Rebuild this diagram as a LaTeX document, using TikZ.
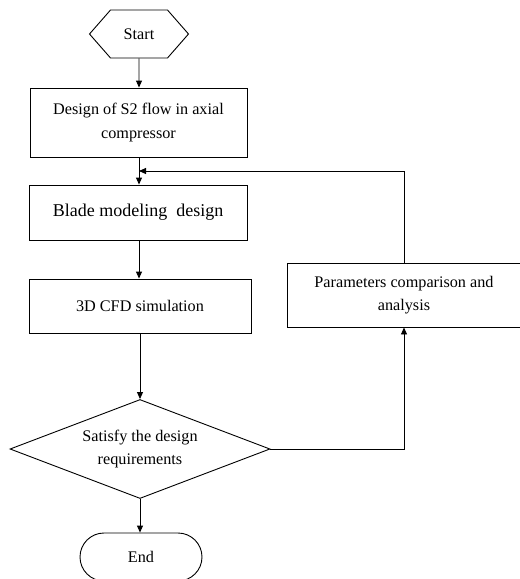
\documentclass[tikz,border=0pt]{standalone}
\usepackage{fontspec}
\setmainfont{Liberation Serif}
\usetikzlibrary{positioning, shapes.geometric, shapes.misc, shapes.symbols, arrows.meta}

\begin{document}
\begin{tikzpicture}[x=1pt, y=-1pt, line width=0.9pt, >={Triangle[length=7pt,width=6pt]},
        every node/.style={draw, inner sep=0pt, align=center,
                           font=\fontsize{16.2}{23.5}\selectfont},
        box/.style={rectangle, minimum height=55pt},
        hexa/.style={signal, signal to=west and east, signal pointer angle=97.6,
                     minimum width=99pt, minimum height=48pt},
        decide/.style={diamond, aspect=2.6, minimum width=260pt, minimum height=99pt},
        term/.style={rounded rectangle, minimum width=122pt, minimum height=48pt}]
      \useasboundingbox (0,0) rectangle (520,579);
      \node[hexa]   (start)  at (139, 34)    {Start};
      \node[box, minimum width=217pt, minimum height=69pt]
                    (s2)     at (138.5,122.5) {Design of S2 flow in axial\\compressor};
      \node[box, minimum width=218pt, font=\fontsize{18}{22}\selectfont]
                    (blade)  at (138, 212.5) {Blade modeling\ \ design};
      \node[box, minimum width=222pt, minimum height=54pt]
                    (cfd)    at (140, 306)   {3D CFD simulation};
      \node[decide] (check)  at (140, 449)   {Satisfy the design\\requirements};
      \node[term]   (stop)   at (141, 557)   {End};
      \node[box, minimum width=234pt, minimum height=64pt]
                    (params) at (404, 295)   {Parameters comparison and\\analysis};
      \coordinate (join) at (139, 171);
      \draw[->] (start) -- (start |- s2.north);
      \draw[->] (start |- s2.south) -- (start |- blade.north);
      \draw[->] (start |- blade.south) -- (start |- cfd.north);
      \draw[->] (check |- cfd.south) -- (check);
      \draw[->] (check) -- (check |- stop.north);
      \draw[->] (check.east) -| (params.south);
      \draw[->] (params.north) |- (join);
    \end{tikzpicture}
\end{document}
